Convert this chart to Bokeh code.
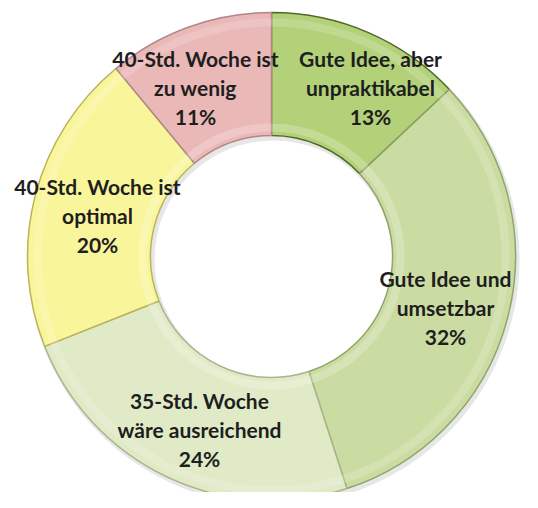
import math
from bokeh.plotting import figure
from bokeh.models import Range1d, ColumnDataSource
from bokeh.core.properties import value
from bokeh.embed import file_html
from bokeh.resources import INLINE

# data (clockwise from 12 o'clock)
categories = [
    "Gute Idee, aber\nunpraktikabel",
    "Gute Idee und\numsetzbar",
    "35-Std. Woche\nwäre ausreichend",
    "40-Std. Woche ist\noptimal",
    "40-Std. Woche ist\nzu wenig",
]
values = [13, 32, 24, 20, 11]
colors = ["#b3d178", "#cbdca2", "#e0eac6", "#f9f59a", "#eab8b6"]
edge_colors = ["#4f6a26", "#8fa468", "#a9b58c", "#b9b45a", "#b08886"]

W, H = 522, 492
p = figure(width=W, height=H, output_backend="svg", toolbar_location=None,
           x_range=Range1d(0, W), y_range=Range1d(508 - H, 508),
           min_border=0)
p.axis.visible = False
p.grid.visible = False
p.outline_line_color = None
p.background_fill_color = "white"

cx, cy = 271, 508 - 256
r_in, r_out = 121, 244

total = sum(values)
starts, ends = [], []
acc = 0
for v in values:
    starts.append(math.pi / 2 - 2 * math.pi * acc / total)
    acc += v
    ends.append(math.pi / 2 - 2 * math.pi * acc / total)

src = ColumnDataSource(dict(start=starts, end=ends, color=colors, edge=edge_colors))
# soft shadow ring
p.annular_wedge(x=cx + 2, y=cy - 3, inner_radius=r_in - 2, outer_radius=r_out + 2,
                start_angle=0, end_angle=2 * math.pi, fill_color="#d0d0d0",
                fill_alpha=0.5, line_color=None)
p.annular_wedge(x=cx, y=cy, inner_radius=r_in, outer_radius=r_out,
                start_angle="start", end_angle="end", direction="clock",
                fill_color="color", line_color="edge", line_width=1.5, source=src)
# highlight bands (bevel look)
p.annular_wedge(x=cx, y=cy, inner_radius=r_out - 14, outer_radius=r_out - 6,
                start_angle="start", end_angle="end", direction="clock",
                fill_color="white", fill_alpha=0.18, line_color=None, source=src)
p.annular_wedge(x=cx, y=cy, inner_radius=r_in + 4, outer_radius=r_in + 12,
                start_angle="start", end_angle="end", direction="clock",
                fill_color="white", fill_alpha=0.22, line_color=None, source=src)

# labels
lab_x = [370, 445, 199, 97, 195]
lab_y = [87, 307, 429, 215, 87]
texts = [f"{c}\n{v}%" for c, v in zip(categories, values)]
lsrc = ColumnDataSource(dict(x=lab_x, y=[508 - y for y in lab_y], t=texts))
p.text(x="x", y="y", text="t", source=lsrc, text_align="center",
       text_baseline="middle", text_font=value("Lato"), text_font_style="bold",
       text_font_size="21px", text_color="#1e1e1e", text_line_height=1.17)

open("out.html", "w").write(file_html(p, INLINE))
